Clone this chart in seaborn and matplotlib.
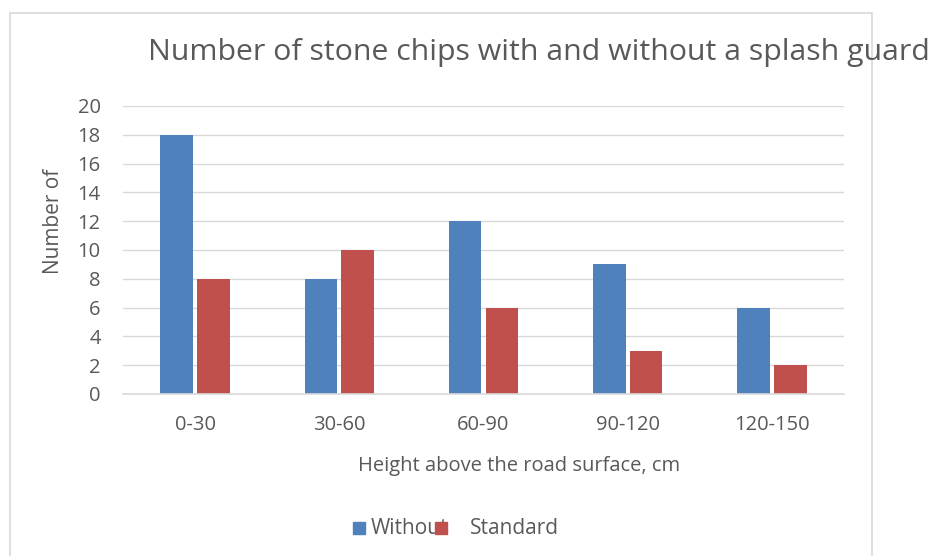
import pandas as pd
import numpy as np
import matplotlib.pyplot as plt
import seaborn as sns
from matplotlib.patches import Rectangle

# data
heights = ["0-30", "30-60", "60-90", "90-120", "120-150"]
without_guard = [18, 8, 12, 9, 6]
standard_guard = [8, 10, 6, 3, 2]
series_names = ["Without", "Standard"]
colors = ["#4F81BD", "#C0504D"]

title = "Number of stone chips with and without a splash guard"
xlabel = "Height above the road surface, cm"
ylabel = "Number of"

df = pd.DataFrame({
    "height": heights * 2,
    "count": without_guard + standard_guard,
    "series": [series_names[0]] * len(heights) + [series_names[1]] * len(heights),
})

sns.set_style("white")
plt.rcParams["font.family"] = ["Open Sans", "DejaVu Sans"]
txt = "#595959"

fig = plt.figure(figsize=(9.33, 5.56), dpi=100)
ax = fig.add_axes([0.1318, 0.2914, 0.7728, 0.518])

sns.barplot(data=df, x="height", y="count", hue="series", order=heights,
            hue_order=series_names, palette=colors, width=0.51, gap=0.11,
            saturation=1, linewidth=0, legend=False, ax=ax)

ax.set_ylim(0, 20)
ax.set_yticks(np.arange(0, 21, 2))
ax.set_xlim(-0.5, len(heights) - 0.5)
ax.grid(axis="y", color="#D9D9D9", linewidth=1)
ax.set_axisbelow(True)
for s in ["left", "right", "top"]:
    ax.spines[s].set_visible(False)
ax.spines["bottom"].set_color("#D9D9D9")
ax.spines["bottom"].set_linewidth(1.2)
ax.tick_params(axis="both", length=0, colors=txt, labelsize=14.5)
ax.tick_params(axis="x", pad=15)
ax.tick_params(axis="y", pad=16)

ax.set_xlabel(xlabel, fontsize=14.5, color=txt)
ax.xaxis.set_label_coords(0.55, -0.215)
ax.set_ylabel(ylabel, fontsize=15, color=txt)
ax.yaxis.set_label_coords(-0.082, 0.6)

fig.text(0.578, 0.905, title, fontsize=21.8, color=txt, ha="center", va="center")

# chart border
fig.patches.append(Rectangle((10 / 933, -0.02), 862 / 933, 0.9966, transform=fig.transFigure,
                             fill=False, edgecolor="#D9D9D9", linewidth=1.2))

# legend drawn by hand to keep the original overlap
sq_w, sq_h = 12 / 933, 12 / 556
leg_y = 1 - 528 / 556
fig.patches.append(Rectangle((353 / 933, leg_y - sq_h / 2), sq_w, sq_h, transform=fig.transFigure,
                             color=colors[0]))
fig.text(371 / 933, leg_y, series_names[0], fontsize=15, color=txt, va="center")
fig.patches.append(Rectangle((435 / 933, leg_y - sq_h / 2), sq_w, sq_h, transform=fig.transFigure,
                             color=colors[1], zorder=5))
fig.text(470 / 933, leg_y, series_names[1], fontsize=15, color=txt, va="center")

fig.savefig("out.png", dpi=100)
